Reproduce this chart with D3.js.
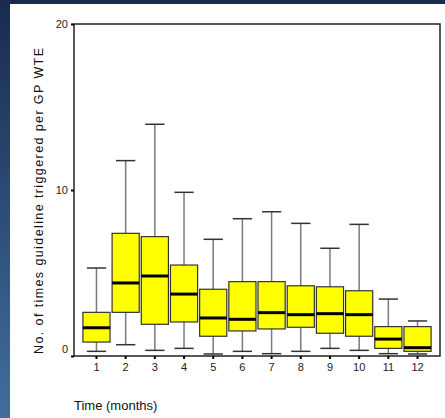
<!DOCTYPE html>
<html>
<head>
<meta charset="utf-8">
<script src="https://cdn.jsdelivr.net/npm/d3@7"></script>
<style>
    html, body { margin: 0; padding: 0; background: #fff; }
    svg { display: block; font-family: "Liberation Sans", Arial, sans-serif; }
</style>
</head>
<body>
<div id="chart"></div>
<script>
// data
const months = ["1", "2", "3", "4", "5", "6", "7", "8", "9", "10", "11", "12"];
const whiskerLow = [0.28, 0.68, 0.34, 0.46, 0.12, 0.28, 0.14, 0.28, 0.46, 0.34, 0.14, 0.12];
const q1 = [0.84, 2.63, 1.91, 2.05, 1.19, 1.51, 1.63, 1.73, 1.37, 1.19, 0.46, 0.28];
const medians = [1.70, 4.40, 4.82, 3.73, 2.29, 2.21, 2.61, 2.49, 2.55, 2.49, 1.02, 0.50];
const q3 = [2.63, 7.39, 7.19, 5.48, 4.02, 4.48, 4.48, 4.23, 4.17, 3.93, 1.77, 1.77];
const whiskerHigh = [5.30, 11.77, 13.96, 9.86, 7.03, 8.27, 8.69, 7.99, 6.49, 7.93, 3.43, 2.11];
const yTicks = [0, 10, 20];

class BoxPlot {
    constructor(div) {
        this.width = 445;
        this.height = 418;
        this.plot = {left: 74, right: 440, top: 24, bottom: 356};
        this.svg = d3.select(div).append("svg")
            .attr("width", this.width)
            .attr("height", this.height);
    }

    build_background() {
        const grad = this.svg.append("defs").append("linearGradient")
            .attr("id", "bg").attr("x1", 0).attr("y1", 0).attr("x2", 0).attr("y2", 1);
        grad.append("stop").attr("offset", "0%").attr("stop-color", "#1a2b4f");
        grad.append("stop").attr("offset", "100%").attr("stop-color", "#416e9e");
        this.svg.append("rect")
            .attr("width", this.width).attr("height", this.height)
            .attr("fill", "url(#bg)");
        this.svg.append("rect")
            .attr("x", 10).attr("y", 4)
            .attr("width", this.width - 10).attr("height", this.height - 4)
            .attr("fill", "#fff");
    }

    build_plot() {
        const p = this.plot;
        const data = months.map((m, i) => ({
            month: m, lo: whiskerLow[i], q1: q1[i], med: medians[i], q3: q3[i], hi: whiskerHigh[i]
        }));

        const x = d3.scaleBand().domain(months).range([p.left, p.right]).paddingOuter(0.27);
        const y = d3.scaleLinear().domain([0, 20]).range([p.bottom, p.top]);
        const boxW = x.step() * 0.93;
        const capW = x.step() * 0.66;
        const cx = d => x(d.month) + x.bandwidth() / 2;

        const g = this.svg.append("g");

        // whiskers
        g.selectAll(".whisker").data(data).join("line")
            .attr("x1", cx).attr("x2", cx)
            .attr("y1", d => y(d.lo)).attr("y2", d => y(d.hi))
            .attr("stroke", "#7a7a7a").attr("stroke-width", 1.5);
        ["lo", "hi"].forEach(k => {
            g.selectAll(".cap-" + k).data(data).join("line")
                .attr("x1", d => cx(d) - capW / 2).attr("x2", d => cx(d) + capW / 2)
                .attr("y1", d => y(d[k])).attr("y2", d => y(d[k]))
                .attr("stroke", "#333").attr("stroke-width", 1.5);
        });

        // boxes
        g.selectAll(".box").data(data).join("rect")
            .attr("x", d => cx(d) - boxW / 2)
            .attr("width", boxW)
            .attr("y", d => y(d.q3))
            .attr("height", d => y(d.q1) - y(d.q3))
            .attr("fill", "#ffff00")
            .attr("stroke", "#333").attr("stroke-width", 1.2);

        // medians
        g.selectAll(".median").data(data).join("line")
            .attr("x1", d => cx(d) - boxW / 2).attr("x2", d => cx(d) + boxW / 2)
            .attr("y1", d => y(d.med)).attr("y2", d => y(d.med))
            .attr("stroke", "#000").attr("stroke-width", 3);

        // frame
        this.svg.append("rect")
            .attr("x", p.left).attr("y", p.top)
            .attr("width", p.right - p.left).attr("height", p.bottom - p.top)
            .attr("fill", "none").attr("stroke", "#222").attr("stroke-width", 1.5);

        // axes
        const yAxis = this.svg.append("g")
            .attr("transform", `translate(${p.left},0)`)
            .call(d3.axisLeft(y).tickValues(yTicks).tickSize(3).tickPadding(3));
        yAxis.select(".domain").remove();
        yAxis.selectAll(".tick text").filter(d => d === 0).attr("dy", "-0.3em");

        const xAxis = this.svg.append("g")
            .attr("transform", `translate(0,${p.bottom})`)
            .call(d3.axisBottom(x).tickSize(3).tickPadding(4));
        xAxis.select(".domain").remove();

        this.svg.selectAll(".tick line").attr("stroke", "#000").attr("stroke-width", 2);
        this.svg.selectAll(".tick text")
            .attr("font-family", "'Liberation Sans', Arial, sans-serif")
            .attr("font-size", 11).attr("fill", "#222");

        // titles
        this.svg.append("text")
            .attr("transform", "translate(43,201) rotate(-90)")
            .attr("text-anchor", "middle")
            .attr("font-size", 12.5).attr("fill", "#111")
            .attr("textLength", 306).attr("lengthAdjust", "spacing")
            .text("No. of times guideline triggered per GP WTE");

        this.svg.append("text")
            .attr("x", 74).attr("y", 410)
            .attr("font-size", 13).attr("fill", "#111")
            .text("Time (months)");
    }

    render() {
        this.build_background();
        this.build_plot();
    }
}

new BoxPlot("#chart").render();
</script>
</body>
</html>
